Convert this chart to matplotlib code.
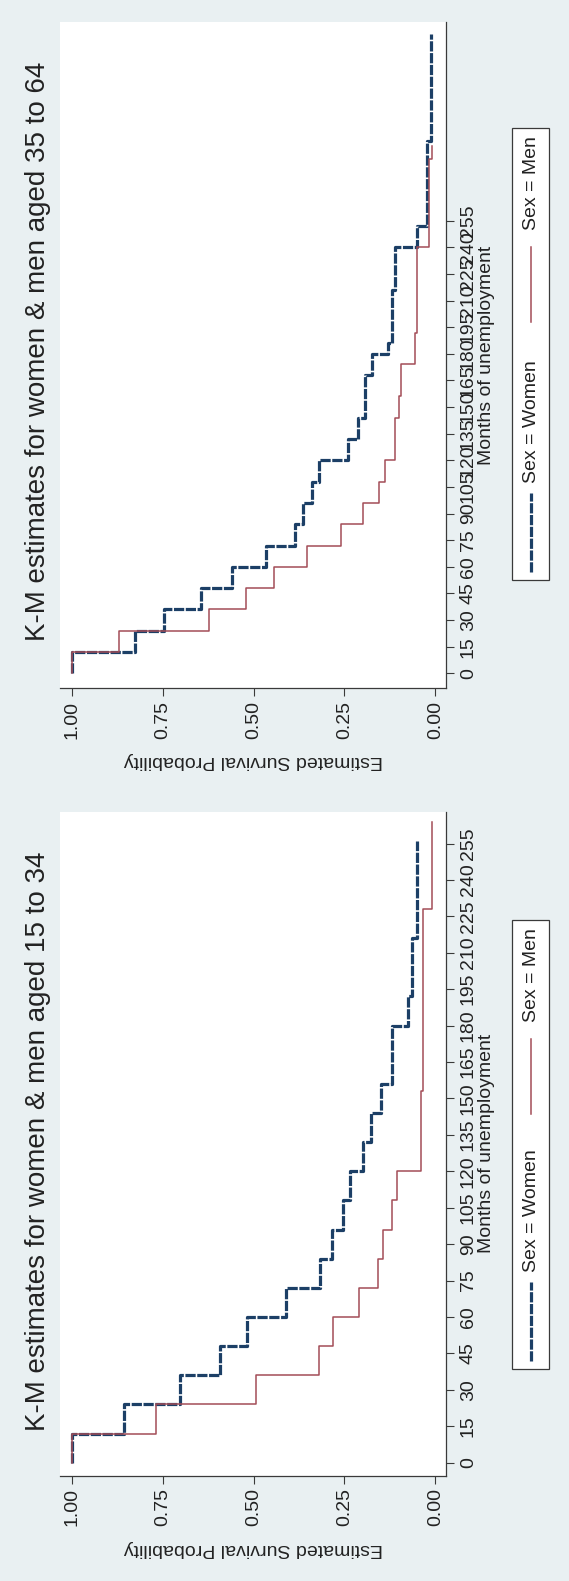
import matplotlib
matplotlib.use("Agg")
import matplotlib.pyplot as plt
from matplotlib.patches import Rectangle
from matplotlib.lines import Line2D

plt.rcParams['font.family'] = ['Liberation Sans', 'DejaVu Sans']

# Kaplan-Meier steps (months, survival after the step)
old_women_t = [0, 12, 24, 36, 48, 60, 72, 84, 96, 108, 120, 132, 144, 168, 180, 186, 216, 240, 252, 300, 360]
old_women_s = [1.0, 0.825, 0.745, 0.645, 0.56, 0.465, 0.385, 0.365, 0.34, 0.32, 0.24, 0.212, 0.194, 0.175, 0.13, 0.12, 0.11, 0.052, 0.024, 0.012, 0.012]
old_men_t = [0, 12, 24, 36, 48, 60, 72, 84, 96, 108, 120, 144, 156, 174, 192, 240, 290, 297]
old_men_s = [1.0, 0.87, 0.622, 0.52, 0.445, 0.352, 0.26, 0.2, 0.155, 0.138, 0.111, 0.1, 0.094, 0.056, 0.051, 0.019, 0.01, 0.01]

young_women_t = [0, 12, 24, 36, 48, 60, 72, 84, 96, 108, 120, 132, 144, 156, 180, 192, 216, 256]
young_women_s = [1.0, 0.857, 0.701, 0.591, 0.518, 0.412, 0.317, 0.284, 0.254, 0.234, 0.199, 0.177, 0.151, 0.12, 0.075, 0.065, 0.05, 0.05]
young_men_t = [0, 12, 24, 36, 48, 60, 72, 84, 96, 108, 120, 153, 228, 264]
young_men_s = [1.0, 0.768, 0.494, 0.319, 0.281, 0.21, 0.158, 0.145, 0.12, 0.105, 0.04, 0.033, 0.01, 0.01]

month_ticks = list(range(0, 256, 15))
prob_ticks = [0, 0.25, 0.5, 0.75, 1.0]
prob_labels = ['0.00', '0.25', '0.50', '0.75', '1.00']
titles = ['K-M estimates for women & men aged 35 to 64',
          'K-M estimates for women & men aged 15 to 34']
legend_labels = ['Sex = Women', 'Sex = Men']

W, H = 569, 1581
BG = '#e9f0f2'
NAVY = '#1c3f66'
RED = '#a34d57'
AXC = '#3a3a3a'
WOMEN_LS = (0, (3.2, 0.5))


def fx(px):
    return px / W


def fy(py):
    return 1 - py / H


fig = plt.figure(figsize=(W / 100, H / 100), dpi=100, facecolor=BG)

# the whole chart is turned a quarter turn: survival runs left->right (1 to 0), months run upward
panels = [
    dict(title=titles[0], top=21.7, bot=688.3, ylim=(-8.45, 367.1), tc=351,
         women=(old_women_t, old_women_s), men=(old_men_t, old_men_s), leg=(128, 580)),
    dict(title=titles[1], top=811.7, bot=1476, ylim=(-5.5, 268.1), tc=1141,
         women=(young_women_t, young_women_s), men=(young_men_t, young_men_s), leg=(920, 1369)),
]

for p in panels:
    top, bot = p['top'], p['bot']
    ax = fig.add_axes([fx(60), fy(bot), fx(446) - fx(60), (bot - top) / H])
    ax.set_facecolor('white')

    wt, ws = p['women']
    mt, ms = p['men']
    ax.plot(ws, wt, drawstyle='steps-pre', color=NAVY, lw=2.3,
            ls=WOMEN_LS, dash_capstyle='butt', solid_joinstyle='miter')
    ax.plot(ms, mt, drawstyle='steps-pre', color=RED, lw=1.1)

    ax.set_xlim(1.032, -0.029)
    ax.set_ylim(*p['ylim'])
    ax.set_xticks(prob_ticks, prob_labels)
    ax.yaxis.tick_right()
    ax.set_yticks(month_ticks)
    ax.tick_params(axis='both', direction='out', length=6, width=0.8,
                   color=AXC, labelsize=14, labelcolor='#222222')
    ax.tick_params(axis='x', labelrotation=90, pad=3)
    ax.tick_params(axis='y', labelrotation=90, pad=4)
    for lab in ax.get_yticklabels():
        lab.set_va('center')
    for side in ['top', 'left']:
        ax.spines[side].set_visible(False)
    for side in ['bottom', 'right']:
        ax.spines[side].set_color(AXC)
        ax.spines[side].set_linewidth(0.9)

    # title, axis titles
    fig.text(fx(38), fy(p['tc']), p['title'], rotation=90, ha='center', va='center',
             fontsize=20, color='#222222')
    fig.text(fx(253), fy(bot + 72), 'Estimated Survival Probability', rotation=180,
             ha='center', va='center', fontsize=14, color='#222222')
    fig.text(fx(478), fy((top + bot) / 2), 'Months of unemployment', rotation=90,
             ha='left', va='center', fontsize=14, color='#222222')

    # legend box drawn by hand (it is turned too)
    lt, lb = p['leg']
    fig.add_artist(Rectangle((fx(512), fy(lb)), fx(549) - fx(512), (lb - lt) / H,
                             transform=fig.transFigure, fc='white', ec=AXC, lw=0.9))
    fig.add_artist(Line2D([fx(531), fx(531)], [fy(lb - 8), fy(lb - 87)], transform=fig.transFigure,
                          color=NAVY, lw=2.3, ls=WOMEN_LS, dash_capstyle='butt'))
    fig.text(fx(531), fy(lb - 97), legend_labels[0], rotation=90, ha='center', va='bottom',
             fontsize=14, color='#222222')
    fig.add_artist(Line2D([fx(531), fx(531)], [fy(lt + 119), fy(lt + 194)], transform=fig.transFigure,
                          color=RED, lw=1.1))
    fig.text(fx(531), fy(lt + 102), legend_labels[1], rotation=90, ha='center', va='bottom',
             fontsize=14, color='#222222')

fig.savefig('out.png', dpi=100, facecolor=BG)
